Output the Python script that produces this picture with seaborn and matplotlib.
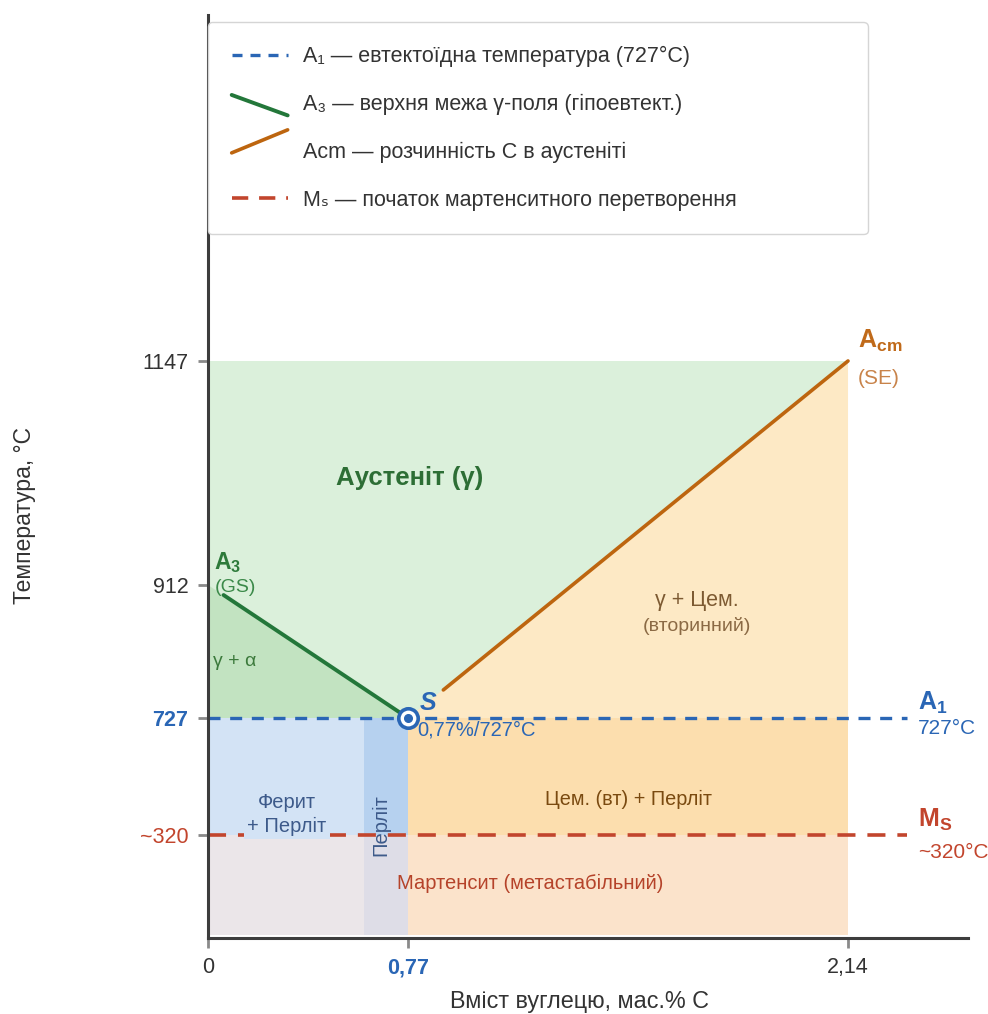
import numpy as np
import pandas as pd
import matplotlib
matplotlib.use("Agg")
import matplotlib.pyplot as plt
import seaborn as sns
from matplotlib.lines import Line2D
from matplotlib.legend_handler import HandlerBase

# ---------------- data ----------------
carbon_ticks = [0, 0.77, 2.14]
carbon_labels = ["0", "0,77", "2,14"]
temp_ticks = [320, 727, 912, 1147]
temp_labels = ["~320", "727", "912", "1147"]

eutectoid_c = 0.77
eutectoid_t = 727
ms_t = 320
a3_t0 = 912
eutectic_t = 1147
max_c = 2.14
pearlite_c = 0.6
line_end_c = 2.324

a3_line_c = [0.06, 0.77]
a3_line_t = [898, 727]
acm_line_c = [0.88, 2.14]
acm_line_t = [766, 1147]

# ---------------- colours ----------------
C_BLUE = "#2a66b5"
C_RED = "#c2452d"
C_GREEN = "#23773a"
C_ORANGE = "#bd650f"
C_AUST = "#dbf0db"
C_GA = "#c2e3c1"
C_GCEM = "#fde9c5"
C_FP = "#d3e3f5"
C_PEARL = "#b6d1ef"
C_CEMP = "#fcdeae"
C_MART_L = "#ebe6e9"
C_MART_P = "#dedde7"
C_MART_R = "#fbe3cb"

sns.set_theme(style="white")
plt.rcParams["font.family"] = ["Liberation Sans", "DejaVu Sans"]
plt.rcParams["mathtext.fontset"] = "custom"
plt.rcParams["mathtext.rm"] = "Liberation Sans:bold"
plt.rcParams["mathtext.it"] = "Liberation Sans:bold"
plt.rcParams["mathtext.bf"] = "Liberation Sans:bold"

fig = plt.figure(figsize=(9.88, 10.14), dpi=100)
ax = fig.add_axes([208 / 988, 76 / 1014, 760 / 988, 923 / 1014])

# schematic (piecewise-linear) scales
XV = np.array([-10, 0, 0.77, 2.14, 12])
XP = np.array([-10 * 259.74, 0, 200, 640, 640 + 9.86 * 321.17])
YV = np.array([-1000, 0, 320, 727, 912, 1147, 3000])
YP = np.array([-321.9, 0, 103, 220, 353, 577, 577 + 1853 * 0.98])


def fx(v):
    return np.interp(v, XV, XP)


def fxi(p):
    return np.interp(p, XP, XV)


def fy(v):
    return np.interp(v, YV, YP)


def fyi(p):
    return np.interp(p, YP, YV)


ax.set_xscale("function", functions=(fx, fxi))
ax.set_yscale("function", functions=(fy, fyi))
ax.set_xlim(0, 2.5136)
ax.set_ylim(0, 1500)

# ---------------- regions ----------------
ax.fill_between([0, max_c], eutectoid_t, eutectic_t, color=C_AUST, lw=0, zorder=1)
ax.fill([eutectoid_c, max_c, max_c], [eutectoid_t, eutectic_t, eutectoid_t], color=C_GCEM, lw=0, zorder=1.1)
ax.fill([0, 0, eutectoid_c], [a3_t0, eutectoid_t, eutectoid_t], color=C_GA, lw=0, zorder=1.1)
ax.fill_between([0, eutectoid_c], ms_t, eutectoid_t, color=C_FP, lw=0, zorder=1)
ax.fill_between([pearlite_c, eutectoid_c], ms_t, eutectoid_t, color=C_PEARL, lw=0, zorder=1.1)
ax.fill_between([eutectoid_c, max_c], ms_t, eutectoid_t, color=C_CEMP, lw=0, zorder=1)
ax.fill_between([0, eutectoid_c], 8, ms_t, color=C_MART_L, lw=0, zorder=1)
ax.fill_between([pearlite_c, eutectoid_c], 8, ms_t, color=C_MART_P, lw=0, zorder=1.1)
ax.fill_between([eutectoid_c, max_c], 8, ms_t, color=C_MART_R, lw=0, zorder=1)

# ---------------- lines ----------------
ax.plot([0, line_end_c], [eutectoid_t, eutectoid_t], color=C_BLUE, lw=2.4,
        dashes=(3.6, 2.9), zorder=3)
ax.plot([0, line_end_c], [ms_t, ms_t], color=C_RED, lw=2.6,
        dashes=(5.0, 3.3), zorder=3)

df_a3 = pd.DataFrame({"c": a3_line_c, "t": a3_line_t})
df_acm = pd.DataFrame({"c": acm_line_c, "t": acm_line_t})
sns.lineplot(data=df_a3, x="c", y="t", color=C_GREEN, lw=2.8, ax=ax, zorder=4, legend=False)
sns.lineplot(data=df_acm, x="c", y="t", color=C_ORANGE, lw=2.6, ax=ax, zorder=4, legend=False)

# eutectoid point S
ax.plot([eutectoid_c], [eutectoid_t], marker="o", ms=14, mfc="white", mec=C_BLUE, mew=2.6, zorder=6)
ax.plot([eutectoid_c], [eutectoid_t], marker="o", ms=5.5, mfc=C_BLUE, mec=C_BLUE, zorder=7)

# ---------------- text labels ----------------
ax.text(0.776, 1024, "Аустеніт (γ)", color="#2d6e35", fontsize=18.5, fontweight="bold",
        ha="center", va="center", zorder=8)
ax.text(1.67, 891, "γ + Цем.", color="#7d5a32", fontsize=15.5, ha="center", va="center", zorder=8)
ax.text(1.67, 855, "(вторинний)", color="#8b6a45", fontsize=14, ha="center", va="center", zorder=8)
ax.text(0.02, 806, "γ + α", color="#3c7a3c", fontsize=14, ha="left", va="center", zorder=8)
ax.text(0.023, 936, "A$_3$", color="#2d7a3a", fontsize=16.5, fontweight="bold",
        ha="left", va="center", zorder=8)
ax.text(0.025, 908, "(GS)", color="#3c8a4a", fontsize=14, ha="left", va="center", zorder=8)
ax.text(0.807, 748, "S", color=C_BLUE, fontsize=18, fontweight="bold", fontstyle="italic",
        ha="left", va="center", zorder=8)
ax.text(0.80, 685, "0,77%/727°C", color=C_BLUE, fontsize=14.5, ha="left", va="center", zorder=8)
ax.text(0.304, 392, "Ферит\n+ Перліт", color="#3d5a8a", fontsize=14.5, ha="center", va="center",
        linespacing=1.35, zorder=8,
        bbox=dict(boxstyle="square,pad=0.15", fc=C_FP, ec="none"))
ax.text(0.666, 355, "Перліт", color="#3d5a8a", fontsize=14.5, rotation=90, ha="center",
        va="center", zorder=8)
ax.text(1.455, 442, "Цем. (вт) + Перліт", color="#7a4a10", fontsize=14.3, ha="center",
        va="center", zorder=8)
ax.text(1.15, 168, "Мартенсит (метастабільний)", color="#b5432a", fontsize=14.5, ha="center",
        va="center", zorder=8)
ax.text(2.171, 1167, "A$_{cm}$", color="#c06a1a", fontsize=18, fontweight="bold",
        ha="left", va="center", zorder=8)
ax.text(2.171, 1129, "(SE)", color="#c8834a", fontsize=15, ha="left", va="center", zorder=8)
ax.text(2.358, 748, "A$_1$", color=C_BLUE, fontsize=18, fontweight="bold",
        ha="left", va="center", zorder=8)
ax.text(2.358, 689, "727°C", color=C_BLUE, fontsize=15, ha="left", va="center", zorder=8)
ax.text(2.358, 372, "M$_S$", color=C_RED, fontsize=18, fontweight="bold",
        ha="left", va="center", zorder=8)
ax.text(2.358, 267, "~320°C", color=C_RED, fontsize=15, ha="left", va="center", zorder=8)

# ---------------- axes styling ----------------
for s in ["top", "right"]:
    ax.spines[s].set_visible(False)
for s in ["left", "bottom"]:
    ax.spines[s].set_color("#3d3d3d")
    ax.spines[s].set_linewidth(2.2)
    ax.spines[s].set_zorder(5)

ax.set_xticks(carbon_ticks)
ax.set_xticklabels(carbon_labels)
ax.set_yticks(temp_ticks)
ax.set_yticklabels(temp_labels)
ax.minorticks_off()
ax.tick_params(axis="both", which="major", direction="out", length=7, width=2,
               color="#8a8a8a", labelsize=15.5, labelcolor="#333333", pad=7,
               left=True, bottom=True)

ylab = ax.get_yticklabels()
ylab[0].set_color(C_RED)
ylab[1].set_color(C_BLUE)
ylab[1].set_fontweight("bold")
xlab = ax.get_xticklabels()
xlab[1].set_color(C_BLUE)
xlab[1].set_fontweight("bold")
ax.xaxis.get_major_ticks()[1].tick1line.set_color(C_BLUE)

ax.set_xlabel("Вміст вуглецю, мас.% С", fontsize=16.8, color="#333333")
ax.set_ylabel("Температура, °C", fontsize=16.5, color="#333333")
ax.xaxis.set_label_coords(0.489, -0.056)
ax.yaxis.set_label_coords(-0.226, 0.458)


# ---------------- legend ----------------
class SlopeHandler(HandlerBase):
    def __init__(self, y0, y1):
        super().__init__()
        self.y0, self.y1 = y0, y1

    def create_artists(self, legend, orig_handle, xdescent, ydescent, width, height,
                       fontsize, trans):
        c = height / 2 - ydescent
        line = Line2D([-xdescent, width - xdescent],
                      [c + self.y0 * fontsize, c + self.y1 * fontsize])
        line.update_from(orig_handle)
        line.set_transform(trans)
        return [line]


h1 = Line2D([], [], color=C_BLUE, lw=2.4, dashes=(3.0, 2.4))
h2 = Line2D([], [], color=C_GREEN, lw=2.8)
h3 = Line2D([], [], color=C_ORANGE, lw=2.6)
h4 = Line2D([], [], color=C_RED, lw=2.6, dashes=(4.5, 3.0))
labels = ["A₁ — евтектоїдна температура (727°C)",
          "A₃ — верхня межа γ-поля (гіпоевтект.)",
          "Acm — розчинність С в аустеніті",
          "Mₛ — початок мартенситного перетворення"]
leg = ax.legend([h1, h2, h3, h4], labels,
                handler_map={h2: SlopeHandler(0.35, -0.6), h3: SlopeHandler(-0.12, 0.95)},
                loc="upper left", bbox_to_anchor=(0, 0.992, 0.868, 0), mode="expand",
                borderaxespad=0, borderpad=1.1, labelspacing=1.24, handlelength=2.6,
                handletextpad=0.7, fontsize=15.5, frameon=True, fancybox=True,
                framealpha=1)
leg.get_frame().set_edgecolor("#d5d5d5")
leg.get_frame().set_linewidth(1.0)
leg.set_zorder(10)
for t in leg.get_texts():
    t.set_color("#333333")

fig.savefig("out.png", dpi=100)
